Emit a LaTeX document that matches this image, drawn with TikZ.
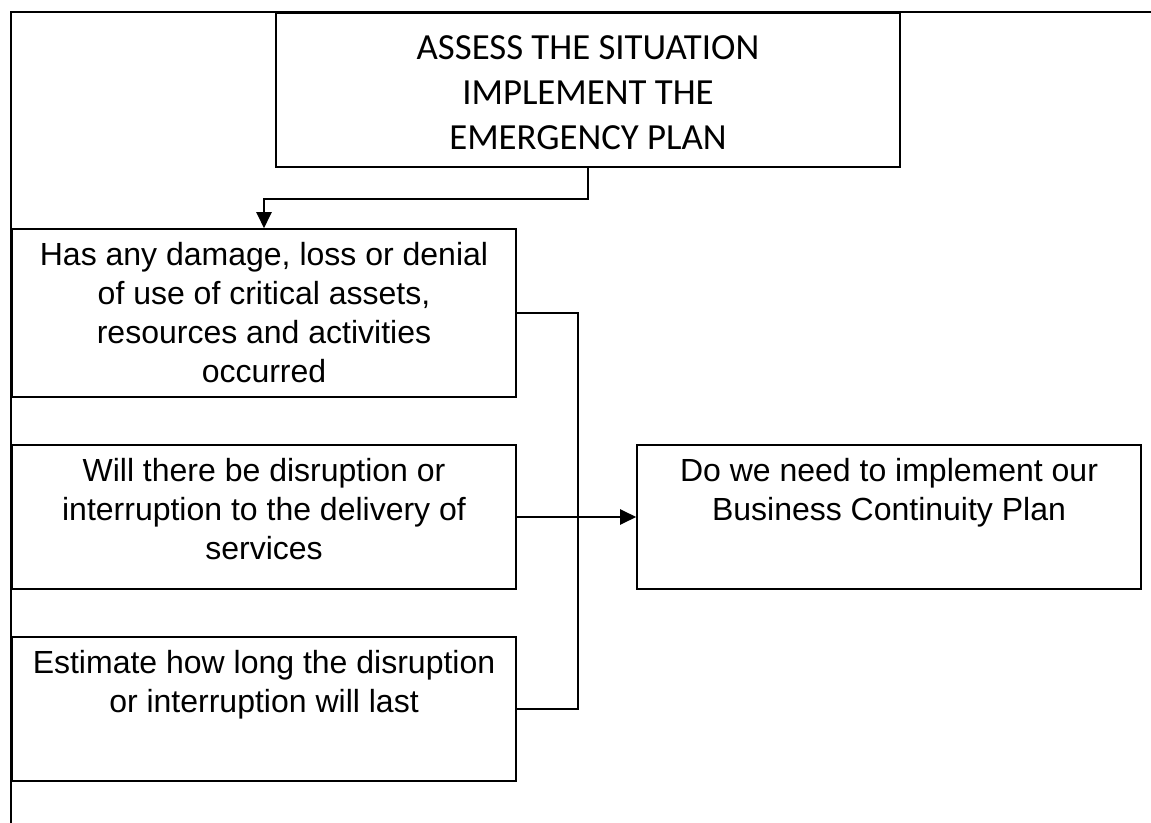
\documentclass[tikz,border=0pt]{standalone}
\usepackage{fontspec}
\newfontfamily\calibri{Carlito}
\newfontfamily\arial{Liberation Sans}
\usetikzlibrary{arrows.meta}

% top aligned text inside a box of given height
\newcommand{\boxtext}[2]{\parbox[c][#1][t]{252pt}{\centering\vspace*{6.5pt}#2}}

\begin{document}
\begin{tikzpicture}
			[x=0.5pt,y=-0.5pt,line cap=rect,
			%Styles
			frame/.style={line width=1.2pt},
			titlebox/.style={draw,line width=0.8pt,inner sep=0pt,minimum width=312pt,minimum height=77pt,align=center,font=\calibri\fontsize{18.4pt}{22.5pt}\selectfont},
			stepbox/.style={draw,line width=0.8pt,inner sep=0pt,font=\arial\fontsize{16pt}{19.6pt}\selectfont},
			link/.style={line width=1.2pt},
			flow/.style={line width=1.2pt,-{Triangle[length=8pt,width=7.5pt]}}
			]
			
			\useasboundingbox (0,0) rectangle (1151,823);
			
			%The graphic
			
			\draw[frame] (11,823) -- (11,12) -- (1151,12);
			
			\node[titlebox] (assess) at (588,90) {\rule{0pt}{15pt}ASSESS THE SITUATION\\IMPLEMENT THE\\EMERGENCY PLAN};
			
			\node[stepbox] (damage) at (264,313) {\boxtext{84pt}{Has any damage, loss or denial\\of use of critical assets,\\resources and activities\\occurred}};
			\node[stepbox] (services) at (264,517) {\boxtext{72pt}{Will there be disruption or\\interruption to the delivery of\\services}};
			\node[stepbox] (duration) at (264,709) {\boxtext{72pt}{Estimate how long the disruption\\or interruption will last}};
			\node[stepbox] (bcp) at (889,517) {\boxtext{72pt}{Do we need to implement our\\Business Continuity Plan}};
			
			\draw[flow] (assess.south) -- ++(0,31) -| (damage.north);
			\draw[link] (damage.east) -- ++(61,0) coordinate (bus) |- (duration.east);
			\draw[flow] (services.east) -- (bcp.west);
		\end{tikzpicture}
\end{document}
